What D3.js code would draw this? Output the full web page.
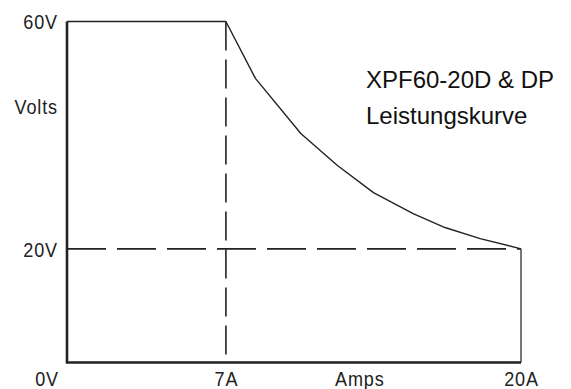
<!DOCTYPE html>
<html><head><meta charset="utf-8">
<script src="https://cdn.jsdelivr.net/npm/d3@7/dist/d3.min.js"></script>
<style>
html,body{margin:0;padding:0;background:#fff;}
svg{display:block;}
.lab{font-family:"Liberation Sans",Arial,sans-serif;font-size:21px;fill:#222;letter-spacing:1px;}
.title{font-family:"Liberation Sans",Arial,sans-serif;font-size:24px;fill:#111;}
</style></head>
<body>
<script>
// Power curve data (Amps, Volts)
const currents = [7, 8.3, 10.3, 11.9, 13.5, 15.25, 16.65, 18.2, 20];
const voltages = [60, 50, 40.3, 34.7, 29.9, 26.2, 23.75, 21.8, 20];
const xTickValues = [7, 20];
const xTickLabels = ["7A", "20A"];
const yTickValues = [60, 20];
const yTickLabels = ["60V", "20V"];
const originLabel = "0V";
const xTitle = "Amps";
const yTitle = "Volts";
const titleLines = ["XPF60-20D & DP", "Leistungskurve"];
const maxA = 20, maxV = 60, ratedA = 7, minV = 20;

const W = 571, H = 389;
const SX = 0.86; // narrow-font emulation
const svg = d3.select("body").append("svg").attr("width", W).attr("height", H);
svg.append("rect").attr("width", W).attr("height", H).attr("fill", "#fff");

const x = d3.scaleLinear().domain([0, maxA]).range([67, 521]);
const y = d3.scaleLinear().domain([0, maxV]).range([362.5, 21.5]);

const line = d3.line().x(d => x(d[0])).y(d => y(d[1]));

// dashed guide lines
svg.append("path").attr("d", line([[ratedA, maxV], [ratedA, 0]]))
  .attr("stroke", "#222").attr("stroke-width", 1.6).attr("fill", "none")
  .attr("stroke-dasharray", "29,9");
svg.append("path").attr("d", line([[0, minV], [maxA, minV]]))
  .attr("stroke", "#222").attr("stroke-width", 1.6).attr("fill", "none")
  .attr("stroke-dasharray", "39,11");

// top line
svg.append("path").attr("d", line([[0, maxV], [ratedA, maxV]]))
  .attr("stroke", "#222").attr("stroke-width", 1.6).attr("fill", "none");
// right line
svg.append("path").attr("d", line([[maxA, minV], [maxA, 0]]))
  .attr("stroke", "#555").attr("stroke-width", 1.6).attr("fill", "none");
// curve
svg.append("path").attr("d", line(currents.map((c, i) => [c, voltages[i]])))
  .attr("stroke", "#222").attr("stroke-width", 1.4).attr("fill", "none")
  .attr("stroke-linejoin", "round");
// left axis and bottom axis
svg.append("path").attr("d", line([[0, maxV], [0, 0], [maxA, 0]]))
  .attr("stroke", "#222").attr("stroke-width", 2.6).attr("fill", "none")
  .attr("stroke-linejoin", "miter");

// axes labels via d3 axes
const xAxis = d3.axisBottom(x).tickValues(xTickValues)
  .tickFormat((d, i) => xTickLabels[i]).tickSize(0).tickPadding(10);
const gx = svg.append("g").attr("transform", `translate(0,${y(0)})`).call(xAxis);
gx.select(".domain").remove();
gx.selectAll("text").attr("class", "lab").attr("dy", null).attr("y", 0).attr("x", 0)
  .attr("transform", `translate(0,23) scale(${SX},1)`)
  .attr("font-family", null).attr("font-size", null);

const yAxis = d3.axisLeft(y).tickValues(yTickValues)
  .tickFormat((d, i) => yTickLabels[i]).tickSize(0).tickPadding(9);
const gy = svg.append("g").attr("transform", `translate(${x(0)},0)`).call(yAxis);
gy.select(".domain").remove();
gy.selectAll("text").attr("class", "lab").attr("dy", "0.35em").attr("x", 0)
  .attr("transform", `translate(-9,0) scale(${SX},1)`)
  .attr("font-family", null).attr("font-size", null);

function label(txt, px, py, anchor, dy) {
  svg.append("text").attr("class", "lab").attr("text-anchor", anchor)
    .attr("dy", dy).attr("transform", `translate(${px},${py}) scale(${SX},1)`).text(txt);
}
label(originLabel, x(0) - 8, y(0) + 23, "end", null);
label(xTitle, x(12.9), y(0) + 23, "middle", null);
label(yTitle, x(0) - 9, y(45), "end", "0.35em");

// title
svg.append("text").attr("class", "title").attr("x", 366).attr("y", 88).text(titleLines[0]);
svg.append("text").attr("class", "title").attr("x", 366).attr("y", 124).text(titleLines[1]);
</script>
</body></html>
